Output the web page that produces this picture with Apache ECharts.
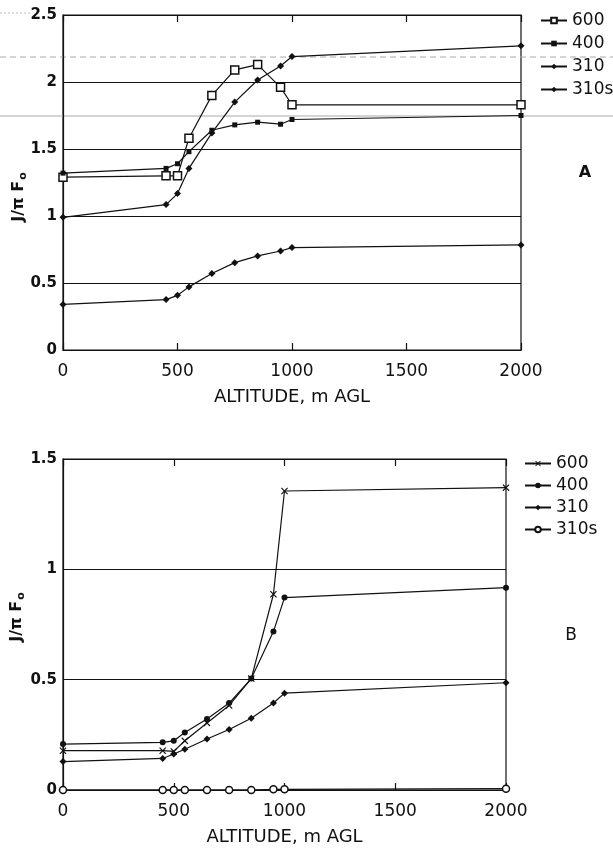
<!DOCTYPE html>
<html><head><meta charset="utf-8">
<script src="https://cdn.jsdelivr.net/npm/echarts@6/dist/echarts.min.js"></script>
<style>html,body{margin:0;padding:0;background:#fff}#c{width:613px;height:849px}</style>
</head><body><div id="c"></div>
<script>
// Altitudes (m AGL)
var altitudes = [0, 450, 500, 550, 650, 750, 850, 950, 1000, 2000];
// Panel A values
var topJ600  = [1.29, 1.30, 1.30, 1.58, 1.90, 2.09, 2.13, 1.96, 1.83, 1.83];
var topJ400  = [1.32, 1.355, 1.39, 1.48, 1.64, 1.68, 1.70, 1.685, 1.72, 1.75];
var topJ310  = [0.99, 1.085, 1.167, 1.355, 1.62, 1.85, 2.015, 2.12, 2.19, 2.27];
var topJ310s = [0.34, 0.376, 0.408, 0.471, 0.571, 0.652, 0.702, 0.739, 0.764, 0.784];
// Panel B values
var botJ600  = [0.178, 0.178, 0.175, 0.223, 0.304, 0.383, 0.505, 0.887, 1.355, 1.37];
var botJ400  = [0.208, 0.216, 0.223, 0.261, 0.322, 0.394, 0.505, 0.718, 0.872, 0.917];
var botJ310  = [0.129, 0.143, 0.163, 0.185, 0.231, 0.274, 0.325, 0.394, 0.439, 0.486];
var botJ310s = [0, 0, 0, 0, 0, 0, 0, 0.003, 0.003, 0.006];
var seriesNames = ['600', '400', '310', '310s'];
var xTicks = [0, 500, 1000, 1500, 2000];

function pairs(ys) { return altitudes.map(function (a, i) { return [a, ys[i]]; }); }

var FONT = 'DejaVu Sans';
var xCross = 'path://M0,1.2L1.2,0L5,3.8L8.8,0L10,1.2L6.2,5L10,8.8L8.8,10L5,6.2L1.2,10L0,8.8L3.8,5Z';

function mkSeries(name, ys, gi, symbol, size, open) {
  return {
    name: name, type: 'line', xAxisIndex: gi * 2, yAxisIndex: gi, data: pairs(ys),
    symbol: symbol, symbolSize: size, showSymbol: true,
    lineStyle: { color: '#111', width: 1.2 },
    itemStyle: open ? { color: '#fff', borderColor: '#111', borderWidth: 1.5 } : { color: '#111', borderColor: '#111', borderWidth: 0 },
    emphasis: { disabled: true }, animation: false, z: 5
  };
}

function xAxes(gi) {
  return [{
    type: 'value', gridIndex: gi, min: xTicks[0], max: xTicks[xTicks.length - 1], interval: 500, position: 'bottom',
    name: 'ALTITUDE, m AGL', nameLocation: 'middle', nameGap: 38,
    nameTextStyle: { fontFamily: FONT, fontSize: 18, color: '#111' },
    axisLine: { show: true, lineStyle: { color: '#111', width: 1.2 } },
    axisTick: { show: true, inside: true, length: 7, lineStyle: { color: '#111', width: 1.2 } },
    axisLabel: { margin: 13, fontFamily: FONT, fontSize: 17, color: '#111', formatter: function (v) { return String(v); } },
    splitLine: { show: false }
  }, {
    type: 'value', gridIndex: gi, min: xTicks[0], max: xTicks[xTicks.length - 1], interval: 500, position: 'top',
    axisLine: { show: false },
    axisTick: { show: true, inside: true, length: 7, lineStyle: { color: '#111', width: 1.2 } },
    axisLabel: { show: false }, splitLine: { show: false }
  }];
}

function yAxis(gi, max) {
  return {
    type: 'value', gridIndex: gi, min: 0, max: max, interval: 0.5,
    axisLine: { show: true, lineStyle: { color: '#111', width: 1.2 } },
    axisTick: { show: false },
    axisLabel: { margin: 6, fontFamily: FONT, fontSize: 15, fontWeight: 'bold', color: '#111',
      formatter: function (v) { return String(v); } },
    splitLine: { show: true, lineStyle: { color: '#111', width: 1 } }
  };
}

function legend(top, left, gap, names) {
  return {
    orient: 'vertical', top: top, left: left, itemWidth: 26, itemHeight: 7, itemGap: gap,
    data: names, selectedMode: false,
    formatter: function (n) { return n.trim(); },
    textStyle: { fontFamily: FONT, fontSize: 17, color: '#111', lineHeight: 16 }
  };
}

var botNames = seriesNames.map(function (n) { return n + ' '; });

var option = {
  backgroundColor: '#fff',
  animation: false,
  grid: [
    { left: 63, top: 15, width: 458, height: 335, show: true, borderColor: '#111', borderWidth: 1.2, backgroundColor: 'transparent' },
    { left: 63, top: 459, width: 443, height: 331, show: true, borderColor: '#111', borderWidth: 1.2, backgroundColor: 'transparent' }
  ],
  xAxis: xAxes(0).concat(xAxes(1)),
  yAxis: [yAxis(0, 2.5), yAxis(1, 1.5)],
  legend: [legend(7, 535, 6, seriesNames), legend(450, 519, 5, botNames)],
  series: [
    mkSeries(seriesNames[0], topJ600, 0, 'rect', 8, true),
    mkSeries(seriesNames[1], topJ400, 0, 'rect', 5, false),
    mkSeries(seriesNames[2], topJ310, 0, 'diamond', 7, false),
    mkSeries(seriesNames[3], topJ310s, 0, 'diamond', 7, false),
    mkSeries(botNames[0], botJ600, 1, xCross, 7, false),
    mkSeries(botNames[1], botJ400, 1, 'circle', 6, false),
    mkSeries(botNames[2], botJ310, 1, 'diamond', 7, false),
    mkSeries(botNames[3], botJ310s, 1, 'circle', 7, true)
  ],
  graphic: [
    { type: 'line', silent: true, z: 0, shape: { x1: 0, y1: 57, x2: 613, y2: 57 }, style: { stroke: '#aaa', lineWidth: 1, lineDash: [6, 4] } },
    { type: 'line', silent: true, z: 0, shape: { x1: 0, y1: 116, x2: 613, y2: 116 }, style: { stroke: '#aaa', lineWidth: 1.2 } },
    { type: 'line', silent: true, z: 0, shape: { x1: 0, y1: 13, x2: 30, y2: 13 }, style: { stroke: '#bbb', lineWidth: 1, lineDash: [2, 2] } },
    { type: 'text', x: 19, y: 197, rotation: Math.PI / 2,
      style: { text: '{a|J/π F}{b|o}', rich: { a: { fontFamily: FONT, fontSize: 16, fontWeight: 'bold', fill: '#111' }, b: { fontFamily: FONT, fontSize: 11, fontWeight: 'bold', fill: '#111', padding: [8, 0, 0, 1] } }, align: 'center', verticalAlign: 'middle' } },
    { type: 'text', x: 17, y: 617, rotation: Math.PI / 2,
      style: { text: '{a|J/π F}{b|o}', rich: { a: { fontFamily: FONT, fontSize: 16, fontWeight: 'bold', fill: '#111' }, b: { fontFamily: FONT, fontSize: 11, fontWeight: 'bold', fill: '#111', padding: [8, 0, 0, 1] } }, align: 'center', verticalAlign: 'middle' } },
    { type: 'text', x: 585, y: 173, style: { text: 'A', fontFamily: FONT, fontSize: 16, fontWeight: 'bold', fill: '#111', align: 'center', verticalAlign: 'middle' } },
    { type: 'text', x: 571, y: 636, style: { text: 'B', fontFamily: FONT, fontSize: 17, fill: '#111', align: 'center', verticalAlign: 'middle' } }
  ]
};

var chart = echarts.init(document.getElementById('c'), null, { renderer: 'canvas' });
chart.setOption(option);
</script></body></html>
